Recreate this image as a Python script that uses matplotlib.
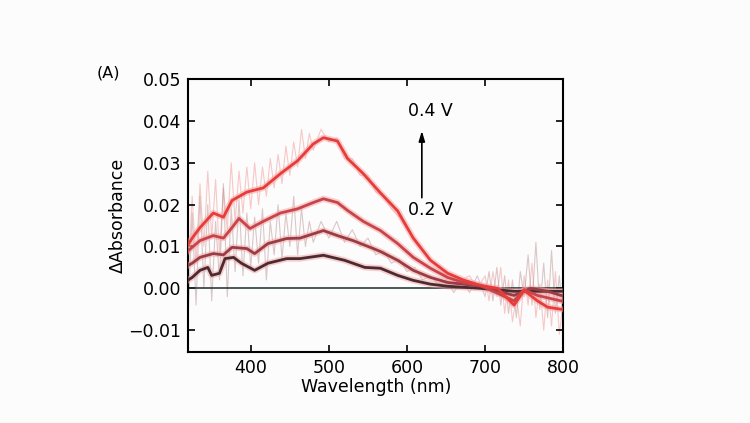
import matplotlib
matplotlib.use("Agg")
import matplotlib.pyplot as plt

# --- smoothed difference spectra (0.2 V -> 0.4 V) ---
wl_a = [320, 325, 335, 352, 365, 376, 395, 416, 438, 460, 480, 493, 511, 524, 544, 566,
        588, 608, 630, 652, 672, 694, 716, 737, 750, 767, 780, 797, 800]
v04 = [0.0105, 0.012, 0.0145, 0.018, 0.017, 0.021, 0.023, 0.024, 0.0274, 0.0305, 0.0345,
       0.036, 0.0352, 0.031, 0.0274, 0.0228, 0.0185, 0.012, 0.0067, 0.0036, 0.002, 0.0007,
       0.0, -0.004, -0.0005, -0.003, -0.0045, -0.005, -0.005]

wl_b = [320, 325, 335, 352, 365, 376, 385, 399, 416, 438, 460, 480, 493, 511, 524, 544, 566,
        588, 608, 630, 652, 672, 694, 737, 750, 767, 797, 800]
v033 = [0.009, 0.0098, 0.0114, 0.0126, 0.012, 0.0145, 0.0167, 0.0143, 0.016, 0.018, 0.019,
        0.0205, 0.0214, 0.0205, 0.0186, 0.016, 0.0138, 0.0107, 0.0074, 0.0048, 0.0026, 0.0014,
        0.0007, -0.003, -0.0003, -0.0017, -0.003, -0.003]

wl_c = [320, 325, 335, 352, 365, 376, 395, 405, 422, 446, 463, 493, 511, 531, 557, 566,
        588, 608, 630, 652, 672, 694, 737, 758, 780, 797, 800]
v027 = [0.0055, 0.006, 0.0074, 0.0083, 0.008, 0.0098, 0.0095, 0.0083, 0.0107, 0.0119, 0.012,
        0.0138, 0.0126, 0.0114, 0.0095, 0.0088, 0.0067, 0.0043, 0.0026, 0.0014, 0.001, 0.0005,
        -0.0017, 0.0, -0.0007, -0.0017, -0.0017]

wl_d = [320, 325, 335, 345, 350, 360, 367, 378, 388, 405, 422, 446, 463, 493, 520, 546, 566,
        588, 608, 630, 652, 694, 737, 797, 800]
v02 = [0.002, 0.0026, 0.0043, 0.005, 0.0031, 0.0036, 0.0071, 0.0074, 0.006, 0.0043, 0.006,
       0.0071, 0.0071, 0.0079, 0.0067, 0.005, 0.0048, 0.0031, 0.0019, 0.001, 0.0005, 0.0,
       -0.0007, -0.0007, -0.0007]

# --- raw (unsmoothed) traces, read roughly from the noisy background ---
raw_wl = [320, 325, 330, 335, 340, 345, 350, 355, 360, 365, 370, 375, 380, 385, 390, 395,
          400, 405, 410, 415, 420, 425, 430, 435, 440, 445, 450, 455, 460, 465, 470, 475, 480,
          490, 500, 510, 520, 530, 540, 550, 560, 570, 580, 590, 600, 610, 620, 630, 640, 650,
          660, 670, 680, 690,
          700, 705, 710, 715, 720, 725, 730, 735, 740, 745, 750, 755, 760, 765, 770, 775, 780,
          785, 790, 795, 800]
raw_hi = [0.004, 0.022, 0.006, 0.025, 0.010, 0.028, 0.012, 0.026, 0.008, 0.024, 0.014, 0.030,
          0.016, 0.028, 0.018, 0.029, 0.019, 0.030, 0.020, 0.029, 0.022, 0.031, 0.024, 0.032,
          0.025, 0.034, 0.027, 0.035, 0.029, 0.038, 0.031, 0.037, 0.033,
          0.038, 0.035, 0.036, 0.031, 0.031, 0.027, 0.027, 0.023, 0.022, 0.019, 0.017, 0.014,
          0.012, 0.009, 0.007, 0.005, 0.004, 0.003, 0.002, 0.003, 0.0,
          0.003, -0.003, 0.004, -0.002, 0.005, -0.006, 0.002, -0.008, -0.002, -0.009, 0.003,
          -0.004, 0.006, -0.007, 0.001, -0.010, 0.002, -0.009, 0.004, -0.011, -0.003]
raw_lo = [-0.006, 0.018, -0.004, 0.022, 0.000, 0.020, -0.003, 0.016, 0.002, 0.025, -0.002,
          0.019, 0.004, 0.021, 0.003, 0.018, 0.005, 0.017, 0.006, 0.019, 0.002, 0.016, 0.008,
          0.020, 0.007, 0.018, 0.010, 0.022, 0.008, 0.019, 0.010, 0.016, 0.011,
          0.016, 0.012, 0.016, 0.011, 0.014, 0.010, 0.012, 0.008, 0.009, 0.006, 0.007, 0.004,
          0.005, 0.002, 0.003, 0.001, 0.002, -0.001, 0.002, -0.001, 0.003,
          -0.002, 0.004, -0.003, 0.005, -0.004, 0.003, -0.006, 0.002, -0.007, 0.004, -0.002,
          0.008, -0.004, 0.011, -0.005, 0.006, -0.007, 0.009, -0.006, 0.003, -0.008]

plt.rcParams['font.family'] = ['DejaVu Sans']
fig = plt.figure(figsize=(7.5, 4.23), dpi=100, facecolor="#fcfcfc")
ax = fig.add_axes([0.251, 0.168, 0.5, 0.645])
ax.set_facecolor("#fcfcfc")

# --- noisy background ---
ax.plot(raw_wl, raw_hi, color="#f08a88", lw=0.8, alpha=0.45, zorder=1)
ax.plot(raw_wl, raw_lo, color="#a8787c", lw=0.8, alpha=0.4, zorder=1)

ax.axhline(0, color="#1c2c2c", lw=1.1, zorder=2)

# --- smoothed curves with a soft halo ---
series = [(wl_d, v02, "#4a2b30"), (wl_c, v027, "#9a3c44"),
          (wl_b, v033, "#c8444a"), (wl_a, v04, "#e83c3a")]
for wl, vals, col in series:
    ax.plot(wl, vals, color="#f4a0a0", lw=4.5, alpha=0.5, zorder=3)
    ax.plot(wl, vals, color=col, lw=2.0, zorder=4)

# --- voltage arrow ---
ax.annotate("", xy=(619, 0.0383), xytext=(619, 0.021),
            arrowprops=dict(arrowstyle="-|>,head_width=0.15,head_length=0.5",
                            color="black", lw=1.2, mutation_scale=12))
ax.text(630, 0.0424, "0.4 V", ha="center", va="center", fontsize=12.5)
ax.text(630, 0.0186, "0.2 V", ha="center", va="center", fontsize=12.5)

ax.set_xlim(320, 800)
ax.set_ylim(-0.0152, 0.05)
ax.set_xticks([400, 500, 600, 700, 800])
ax.set_yticks([-0.01, 0.0, 0.01, 0.02, 0.03, 0.04, 0.05])
ax.set_yticklabels(["\u22120.01", "0.00", "0.01", "0.02", "0.03", "0.04", "0.05"])
ax.tick_params(direction="in", top=True, right=True, labelsize=12.5, length=5, width=1.2,
               pad=5)
for s in ax.spines.values():
    s.set_linewidth(1.5)

ax.set_xlabel("Wavelength (nm)", fontsize=12.5, labelpad=1)
ax.set_ylabel("\u0394Absorbance", fontsize=12.5, labelpad=1)
fig.text(0.144, 0.827, "(A)", fontsize=11.5, ha="center", va="center")

fig.savefig("out.png", dpi=100, facecolor=fig.get_facecolor())
